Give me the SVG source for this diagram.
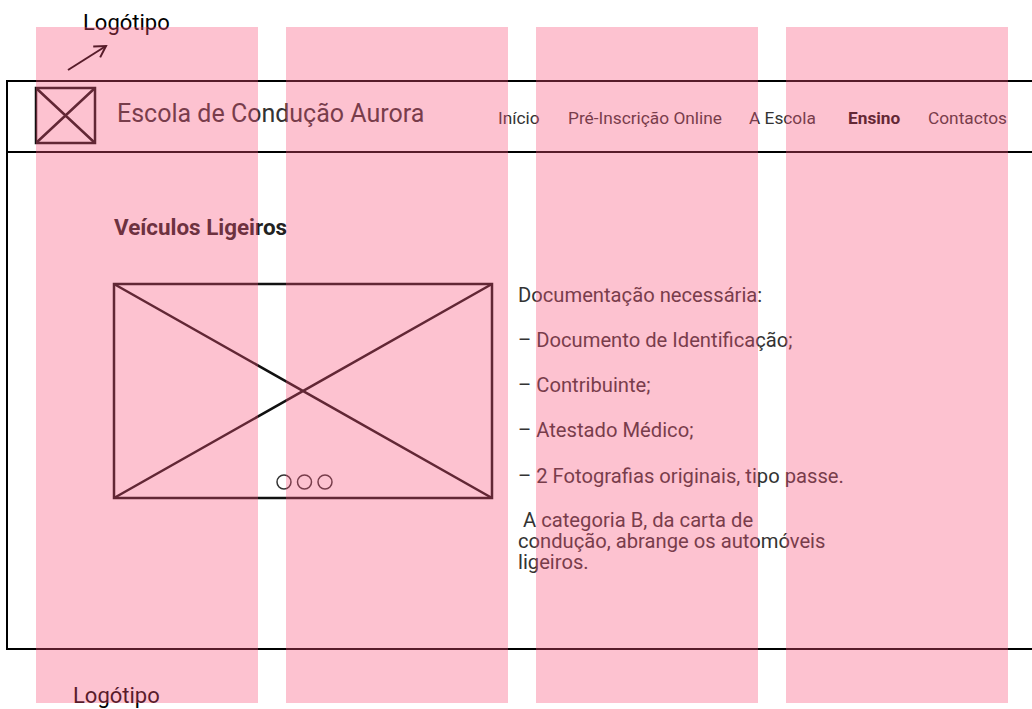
<svg xmlns="http://www.w3.org/2000/svg" width="1032" height="709" viewBox="0 0 1032 709">
<style>
.t{font-family:Roboto,"Liberation Sans",sans-serif;fill:#333}
.ln{stroke:#000;stroke-width:2;fill:none}
.ph{stroke:#111;stroke-width:2.5;fill:none}
.col{fill:rgb(250,80,120);fill-opacity:0.35}
.dot{fill:none;stroke:#333;stroke-width:1.5}
</style>
<defs>
<marker id="ah" markerWidth="16" markerHeight="16" refX="13" refY="8" orient="auto" markerUnits="userSpaceOnUse">
<path d="M2,1.5 L13,8 L2,14.5" fill="none" stroke="#000" stroke-width="2"/>
</marker>
</defs>
<rect width="1032" height="709" fill="#fff"/>
<g id="frame">
<path class="ln" d="M1034,81 H7 V649 H1034"/>
<path class="ln" d="M7,152 H1034"/>
</g>
<g id="logo-label">
<text class="t" x="83" y="30" font-size="22" style="fill:#000">Logótipo</text>
</g>
<g id="connectors">
<line x1="68" y1="70" x2="106" y2="46" stroke="#000" stroke-width="2" marker-end="url(#ah)"/>
</g>
<g id="logo">
<rect class="ph" x="36" y="88" width="59" height="55"/>
<path class="ph" d="M36,88 L95,143 M95,88 L36,143"/>
</g>
<g id="title">
<text class="t" x="117" y="122" font-size="25">Escola de Condução Aurora</text>
</g>
<g id="nav">
<text class="t" x="498" y="124" font-size="17.3">Início</text>
<text class="t" x="568" y="124" font-size="17.3">Pré-Inscrição Online</text>
<text class="t" x="749" y="124" font-size="17.3">A Escola</text>
<text class="t" x="848" y="124" font-size="17.3" font-weight="bold" style="fill:#111">Ensino</text>
<text class="t" x="928" y="124" font-size="17.3">Contactos</text>
</g>
<g id="heading">
<text class="t" x="114" y="235" font-size="22.4" font-weight="bold" style="fill:#222">Veículos Ligeiros</text>
</g>
<g id="image-carousel">
<rect class="ph" x="114" y="284" width="378" height="214"/>
<path class="ph" d="M114,284 L492,498 M492,284 L114,498"/>
<circle class="dot" cx="284" cy="482" r="7"/>
<circle class="dot" cx="304.5" cy="482" r="7"/>
<circle class="dot" cx="325" cy="482" r="7"/>
</g>
<g id="docs">
<text class="t" x="518" y="302" font-size="20.2">Documentação necessária:</text>
<text class="t" x="518" y="347" font-size="20.2">– Documento de Identificação;</text>
<text class="t" x="518" y="392" font-size="20.2">– Contribuinte;</text>
<text class="t" x="518" y="437" font-size="20.2">– Atestado Médico;</text>
<text class="t" x="518" y="483" font-size="20.2">– 2 Fotografias originais, tipo passe.</text>
<text class="t" x="518" y="527" font-size="20.2" xml:space="preserve"> A categoria B, da carta de</text>
<text class="t" x="518" y="548" font-size="20.2">condução, abrange os automóveis</text>
<text class="t" x="518" y="569" font-size="20.2">ligeiros.</text>
</g>
<g id="footer-logo">
<text class="t" x="73" y="703" font-size="22" style="fill:#000">Logótipo</text>
</g>
<g id="grid">
<rect class="col" x="36" y="27" width="222" height="676"/>
<rect class="col" x="286" y="27" width="222" height="676"/>
<rect class="col" x="536" y="27" width="222" height="676"/>
<rect class="col" x="786" y="27" width="222" height="676"/>
</g>
</svg>
